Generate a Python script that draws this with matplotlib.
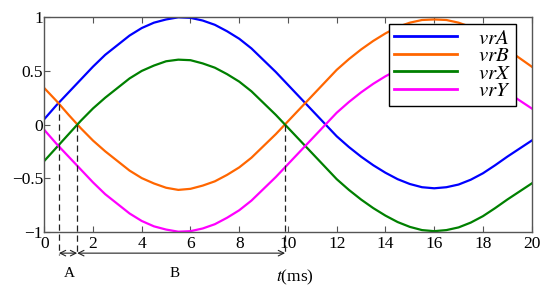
import numpy as np
import matplotlib
matplotlib.use('Agg')
import matplotlib.pyplot as plt

# time axis (ms), sampled every 0.5 ms
t = np.arange(0, 20.01, 0.5)

# values
v_rA = [0.05, 0.18, 0.30, 0.42, 0.54, 0.65, 0.74, 0.83, 0.90, 0.95, 0.98,
        1.00, 0.995, 0.97, 0.93, 0.87, 0.80, 0.71, 0.60, 0.49, 0.37, 0.25,
        0.13, 0.01, -0.11, -0.21, -0.30, -0.38, -0.45, -0.51, -0.555, -0.585,
        -0.595, -0.585, -0.56, -0.515, -0.455, -0.38, -0.30, -0.225, -0.15]
v_rB = [0.34, 0.22, 0.09, -0.035, -0.15, -0.25, -0.34, -0.43, -0.50, -0.55, -0.59,
        -0.61, -0.60, -0.57, -0.53, -0.47, -0.40, -0.31, -0.20, -0.09, 0.03, 0.15,
        0.27, 0.39, 0.51, 0.61, 0.70, 0.78, 0.85, 0.91, 0.95, 0.975,
        0.98, 0.975, 0.95, 0.91, 0.85, 0.78, 0.70, 0.62, 0.54]
v_rX = [-0.34, -0.215, -0.09, 0.035, 0.15, 0.25, 0.34, 0.43, 0.50, 0.55, 0.59,
        0.605, 0.60, 0.57, 0.53, 0.47, 0.40, 0.31, 0.20, 0.09, -0.03, -0.15,
        -0.27, -0.39, -0.51, -0.61, -0.70, -0.78, -0.85, -0.91, -0.955, -0.985,
        -0.995, -0.985, -0.96, -0.915, -0.855, -0.78, -0.70, -0.625, -0.55]
v_rY = [-0.05, -0.18, -0.30, -0.42, -0.54, -0.65, -0.74, -0.83, -0.90, -0.95, -0.98,
        -1.00, -0.995, -0.97, -0.93, -0.87, -0.80, -0.71, -0.60, -0.49, -0.37, -0.25,
        -0.13, -0.01, 0.11, 0.21, 0.30, 0.38, 0.45, 0.51, 0.555, 0.585,
        0.595, 0.585, 0.56, 0.515, 0.455, 0.38, 0.30, 0.225, 0.15]

series_labels = [r'$vrA$', r'$vrB$', r'$vrX$', r'$vrY$']
series_colors = ['#0000ff', '#ff6600', '#008000', '#ff00ff']

# crossing instants marked with dashed lines and the level where each starts
cross_t = [0.6, 1.35, 9.88]
cross_v = [0.19, 0.0, 0.0]
interval_names = ['A', 'B']

x_ticks = [0, 2, 4, 6, 8, 10, 12, 14, 16, 18, 20]
y_ticks = [-1, -0.5, 0, 0.5, 1]
y_tick_labels = ['\u22121', '\u22120.5', '0', '0.5', '1']

plt.rcParams['font.family'] = 'serif'
plt.rcParams['font.serif'] = ['Liberation Serif', 'DejaVu Serif']
plt.rcParams['mathtext.fontset'] = 'stix'

fig = plt.figure(figsize=(5.5, 2.92), dpi=100)
ax = fig.add_axes([0.0805, 0.2065, 0.8862, 0.7342])

for vals, lab, col in zip([v_rA, v_rB, v_rX, v_rY], series_labels, series_colors):
    ax.plot(t, vals, color=col, lw=1.6, label=lab)

ax.set_xlim(0, 20)
ax.set_ylim(-1, 1)
ax.set_xticks(x_ticks)
ax.set_xticklabels([str(x) for x in x_ticks])
ax.set_yticks(y_ticks)
ax.set_yticklabels(y_tick_labels)
ax.tick_params(direction='in', length=4, width=0.8, color='#555555',
               labelsize=12.5, top=True, pad=3)
ax.tick_params(axis='y', pad=1)
for s in ax.spines.values():
    s.set_color('#555555')
    s.set_linewidth(1.0)

# dashed markers and the A / B interval arrows below the axis
arrow_y = -1.2
for ct, cv in zip(cross_t, cross_v):
    ax.plot([ct, ct], [cv, arrow_y - 0.02], color='#222222', lw=0.9,
            ls=(0, (5, 3)), clip_on=False)
for i, name in enumerate(interval_names):
    ax.annotate('', xy=(cross_t[i], arrow_y), xytext=(cross_t[i + 1], arrow_y),
                xycoords='data', annotation_clip=False,
                arrowprops=dict(arrowstyle='<->', color='#222222', lw=0.8,
                                shrinkA=0, shrinkB=0))
    ax.text((cross_t[i] + cross_t[i + 1]) / 2 + (0.05 if i == 0 else -0.25), -1.39,
            name, ha='center', va='center', fontsize=11, clip_on=False)

ax.text(10.3, -1.43, r'$t$(ms)', ha='center', va='center', fontsize=12.5,
        clip_on=False)

leg = ax.legend(loc='upper right', bbox_to_anchor=(0.968, 0.969),
                borderaxespad=0, fancybox=False, framealpha=1,
                edgecolor='black', fontsize=15, handlelength=3.0,
                handletextpad=1.0, labelspacing=-0.1, borderpad=0.25)
leg.get_frame().set_linewidth(1.0)
for line in leg.get_lines():
    line.set_linewidth(2.0)

fig.savefig('out.png', dpi=100)
